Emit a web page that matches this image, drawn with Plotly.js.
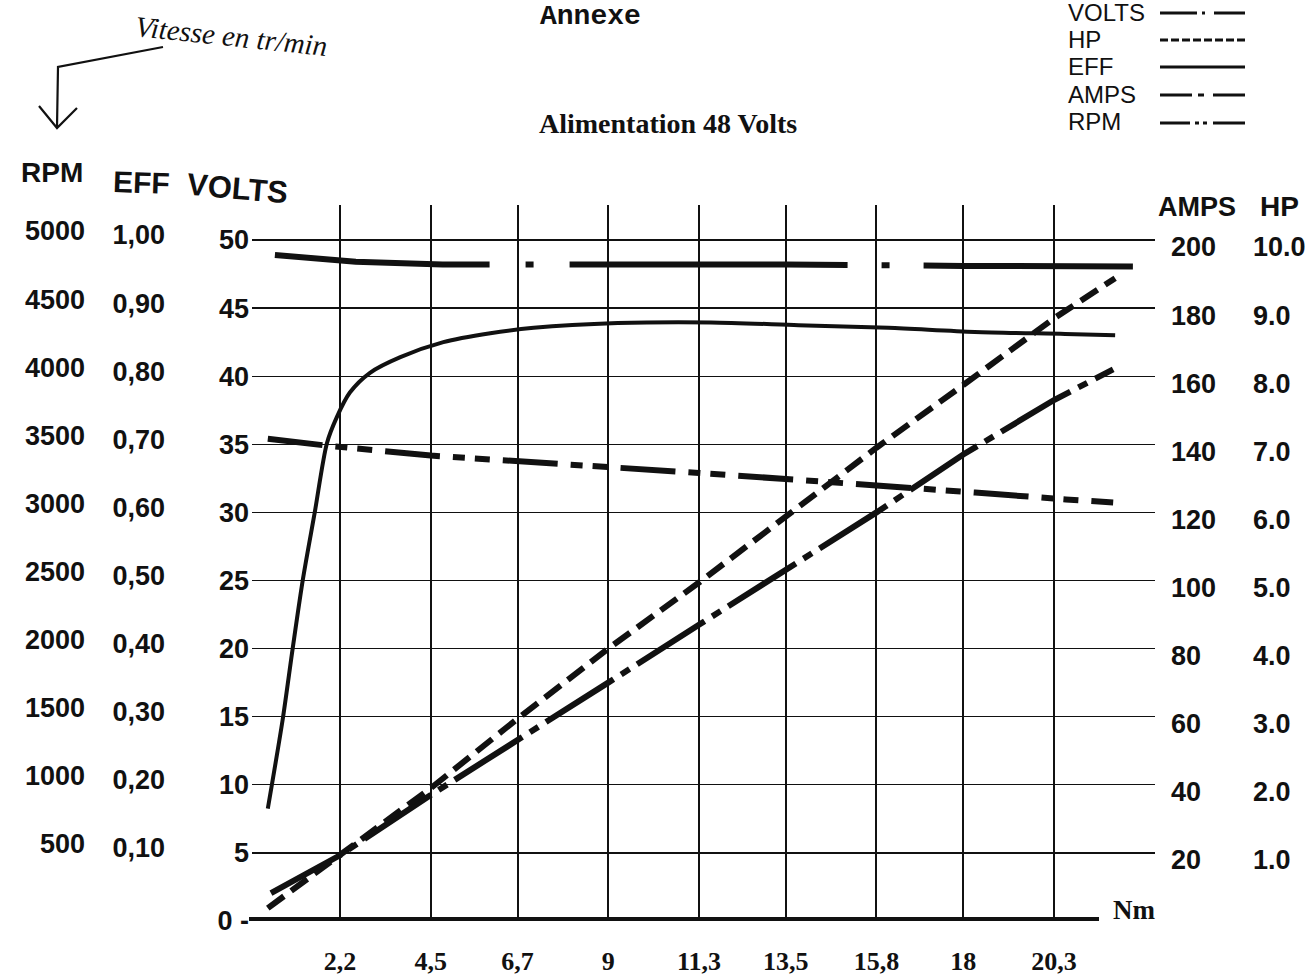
<!DOCTYPE html>
<html>
<head>
<meta charset="utf-8">
<script src="https://cdn.plot.ly/plotly-3.0.1.min.js"></script>
<style>html,body{margin:0;padding:0;background:#fff;}#chart{width:1305px;height:980px;}</style>
</head>
<body>
<div id="chart"></div>
<script>
// ---- Data ----
const torqueTicks = [2.2, 4.5, 6.7, 9, 11.3, 13.5, 15.8, 18, 20.3];
const torqueTickText = ['2,2', '4,5', '6,7', '9', '11,3', '13,5', '15,8', '18', '20,3'];

const voltsTicks = [0, 5, 10, 15, 20, 25, 30, 35, 40, 45, 50];
const voltsTickText = ['0 -', '5', '10', '15', '20', '25', '30', '35', '40', '45', '50'];
const effTicks = [0.1, 0.2, 0.3, 0.4, 0.5, 0.6, 0.7, 0.8, 0.9, 1.0];
const effTickText = ['0,10', '0,20', '0,30', '0,40', '0,50', '0,60', '0,70', '0,80', '0,90', '1,00'];
const rpmTicks = [500, 1000, 1500, 2000, 2500, 3000, 3500, 4000, 4500, 5000];
const ampsTicks = [20, 40, 60, 80, 100, 120, 140, 160, 180, 200];
const hpTicks = [1, 2, 3, 4, 5, 6, 7, 8, 9, 10];
const hpTickText = ['1.0', '2.0', '3.0', '4.0', '5.0', '6.0', '7.0', '8.0', '9.0', '10.0'];

const voltsTorque = [0.55, 2.6, 4.8, 9, 13.5, 18, 22.3];
const voltsValues = [48.9, 48.4, 48.2, 48.25, 48.2, 48.1, 48.05];

const hpTorque = [0.37, 2.2, 4.5, 6.7, 9, 11.3, 13.5, 15.8, 18, 20.3, 21.85];
const hpValues = [0.19, 0.97, 1.95, 2.97, 4.0, 4.97, 5.95, 6.95, 7.87, 8.85, 9.44];

const effTorque = [0.37, 0.75, 1.0, 1.26, 1.56, 1.87, 2.12, 2.45, 2.96, 3.73, 4.82, 6.01, 7.11, 9.24, 11.6, 13.82, 16.1, 18.29, 20.58, 21.85];
const effValues = [0.165, 0.297, 0.400, 0.502, 0.600, 0.702, 0.740, 0.776, 0.805, 0.828, 0.850, 0.863, 0.871, 0.878, 0.879, 0.875, 0.871, 0.865, 0.862, 0.860];

const ampsTorque = [0.45, 2.2, 4.5, 6.7, 9, 11.3, 13.5, 15.8, 18, 20.3, 21.8];
const ampsValues = [8.2, 19.3, 37, 53, 70, 87, 103, 120, 137, 153, 162];

const rpmTorque = [0.37, 1.87, 4.5, 7.0, 9.2, 11.3, 13.8, 16.1, 18.3, 20.6, 21.8];
const rpmValues = [3541, 3490, 3417, 3366, 3329, 3290, 3241, 3190, 3146, 3095, 3073];

const seriesNames = ['VOLTS', 'HP', 'EFF', 'AMPS', 'RPM'];

// ---- Layout helpers (pixel -> paper) ----
const W = 1305, H = 980;
const P = x => x / W;
const Q = y => 1 - y / H;

const dashes = {
  VOLTS: '215px,36px,8px,36px,278px,34px,8px,34px,320px,10px',
  HP: '20px,9px',
  EFF: 'solid',
  AMPS: '80px,9px,10px,9px',
  RPM: '55px,13px,12px,10px,15px,13px'
};
const legendDashes = {
  VOLTS: '37px,5px,3px,9px,40px',
  HP: '8px,3px',
  EFF: 'solid',
  AMPS: '32px,6px,6px,9px,40px',
  RPM: '30px,5px,4px,4px,4px,6px,40px'
};

const black = '#111';
const traces = [
  {x: voltsTorque, y: voltsValues, yaxis: 'y', name: 'VOLTS', line: {color: black, width: 6, dash: dashes.VOLTS}},
  {x: hpTorque, y: hpValues, yaxis: 'y5', name: 'HP', line: {color: black, width: 6, dash: dashes.HP}},
  {x: effTorque, y: effValues, yaxis: 'y2', name: 'EFF', line: {color: black, width: 4, dash: 'solid', shape: 'spline', smoothing: 0.8}},
  {x: ampsTorque, y: ampsValues, yaxis: 'y4', name: 'AMPS', line: {color: black, width: 6, dash: dashes.AMPS}},
  {x: rpmTorque, y: rpmValues, yaxis: 'y3', name: 'RPM', line: {color: black, width: 6, dash: dashes.RPM}}
].map(t => Object.assign({type: 'scatter', mode: 'lines', xaxis: 'x', hoverinfo: 'skip'}, t));

// plot area in pixels
const plotL = 252, plotR = 1155, plotT = 205, plotB = 921;
const nmPerPx = (20.3 - 2.2) / (1054 - 340);
const xMin = 2.2 - (340 - plotL) * nmPerPx;
const xMax = 20.3 + (plotR - 1054) * nmPerPx;
const vPerPx = 50 / (921 - 240);
const vMax = (plotB - plotT) * vPerPx;

const tickNum = {family: 'Liberation Sans, Arial, sans-serif', size: 27, color: black, weight: 700};
const yCommon = {showgrid: false, zeroline: false, showline: false, ticks: '', tickfont: tickNum, tickmode: 'array', fixedrange: true};

const layout = {
  width: W, height: H,
  margin: {l: 0, r: 0, t: 0, b: 0, pad: 0},
  paper_bgcolor: '#fff', plot_bgcolor: '#fff',
  showlegend: false,
  xaxis: {
    domain: [P(plotL), P(plotR)], range: [xMin, xMax],
    tickmode: 'array', tickvals: torqueTicks, ticktext: torqueTickText,
    showgrid: true, gridcolor: black, gridwidth: 2, zeroline: false, showline: false, ticks: '',
    tickfont: {family: 'Liberation Serif, Times New Roman, serif', size: 26, color: black, weight: 700},
    ticklabelstandoff: 22
  },
  yaxis: Object.assign({}, yCommon, {
    domain: [Q(plotB), Q(plotT)], range: [0, vMax],
    tickvals: voltsTicks, ticktext: voltsTickText,
    showgrid: true, gridcolor: black, gridwidth: 1.3, ticklabelstandoff: 2
  }),
  yaxis2: Object.assign({}, yCommon, {
    overlaying: 'y', anchor: 'free', side: 'left', position: P(165),
    range: [0, vMax / 50], tickvals: effTicks, ticktext: effTickText, ticklabelshift: -5
  }),
  yaxis3: Object.assign({}, yCommon, {
    overlaying: 'y', anchor: 'free', side: 'left', position: P(85),
    range: [0, vMax * 100], tickvals: rpmTicks, ticktext: rpmTicks.map(String), ticklabelshift: -9
  }),
  yaxis4: Object.assign({}, yCommon, {
    overlaying: 'y', anchor: 'free', side: 'right', position: P(1170),
    range: [0, vMax * 4], tickvals: ampsTicks, ticktext: ampsTicks.map(String), ticklabelshift: 7
  }),
  yaxis5: Object.assign({}, yCommon, {
    overlaying: 'y', anchor: 'free', side: 'right', position: P(1252),
    range: [0, vMax / 5], tickvals: hpTicks, ticktext: hpTickText, ticklabelshift: 7
  }),
  shapes: [],
  annotations: []
};

// Torque baseline
layout.shapes.push({type: 'line', xref: 'paper', yref: 'paper', x0: P(249), x1: P(1099), y0: Q(919), y1: Q(919), line: {color: black, width: 4}});

// Arrow "Vitesse en tr/min"
const arrowPath = `M ${P(163)} ${Q(47)} L ${P(58)} ${Q(67)} L ${P(57)} ${Q(127)} M ${P(39)} ${Q(106)} L ${P(57)} ${Q(128)} L ${P(77)} ${Q(108)}`;
layout.shapes.push({type: 'path', xref: 'paper', yref: 'paper', path: arrowPath, line: {color: black, width: 2.2}});

// Legend (text then sample line)
const legendY = [12, 39, 66, 94, 122];
seriesNames.forEach((name, i) => {
  layout.annotations.push({xref: 'paper', yref: 'paper', x: P(1066), y: Q(legendY[i]), xanchor: 'left', yanchor: 'middle',
    text: name, showarrow: false, font: {family: 'Liberation Sans, Arial, sans-serif', size: 24, color: black}});
  layout.shapes.push({type: 'line', xref: 'paper', yref: 'paper', x0: P(1160), x1: P(1245), y0: Q(legendY[i] + 1), y1: Q(legendY[i] + 1),
    line: {color: black, width: 3, dash: legendDashes[name]}});
});

const titleFont = s => ({family: 'Liberation Sans, Arial, sans-serif', size: s, color: black, weight: 700});
function addText(text, x, y, font, extra) {
  layout.annotations.push(Object.assign({xref: 'paper', yref: 'paper', x: P(x), y: Q(y), xanchor: 'center', yanchor: 'middle',
    text: text, showarrow: false, font: font}, extra || {}));
}
addText('RPM', 52, 172, titleFont(28));
addText('EFF', 141, 182, titleFont(30), {textangle: 2});
addText('VOLTS', 237, 189, titleFont(31), {textangle: 5});
addText('AMPS', 1197, 207, titleFont(27));
addText('HP', 1279, 207, titleFont(28));
addText('Nm', 1134, 910, {family: 'Liberation Serif, Times New Roman, serif', size: 27, color: black, weight: 700});
addText('Annexe', 590, 0, {family: 'Liberation Mono, Courier New, monospace', size: 28, color: black, weight: 700}, {yanchor: 'top', borderpad: 0});
addText('Alimentation 48 Volts', 668, 123, {family: 'Liberation Serif, Times New Roman, serif', size: 28, color: black, weight: 700});
addText('Vitesse en tr/min', 231, 36, {family: 'Liberation Serif, Times New Roman, serif', size: 29, color: black, style: 'italic'}, {textangle: 6});

Plotly.newPlot('chart', traces, layout, {displayModeBar: false, staticPlot: true});
</script>
</body>
</html>
